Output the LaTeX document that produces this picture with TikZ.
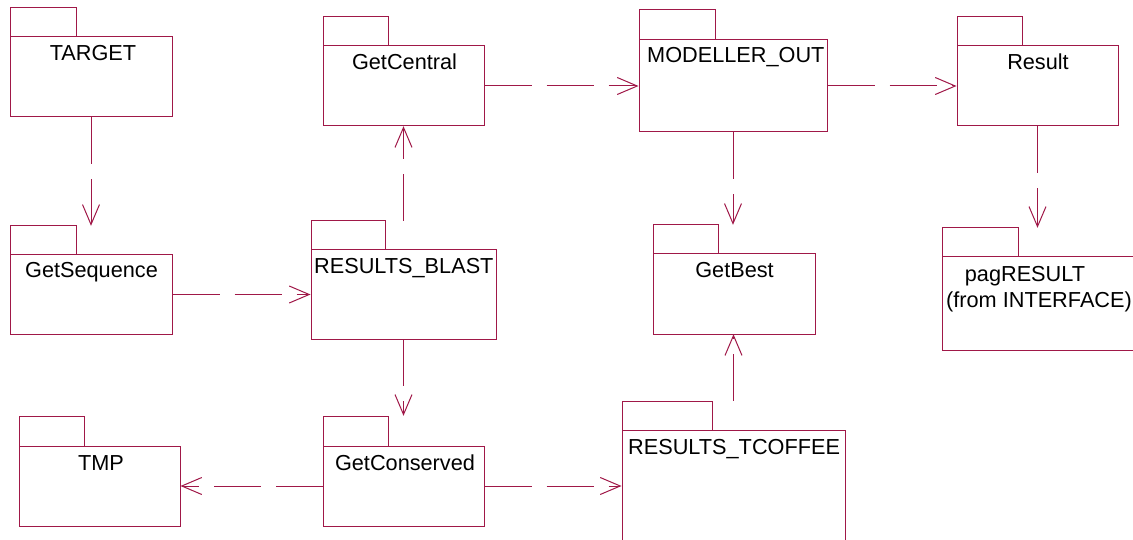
\documentclass[tikz,border=0pt]{standalone}
\usepackage{fontspec}
\setmainfont{Liberation Sans}
\usetikzlibrary{arrows.meta,fit}
\definecolor{umlred}{RGB}{160,24,72}
\tikzset{
  pkg/.style={draw=umlred, line width=1pt},
  pkgbody/.style={draw=umlred, line width=1pt, inner sep=0pt, rectangle},
  pkgall/.style={inner sep=0pt, rectangle},
  lbl/.style={inner sep=0pt, text=black, font=\fontsize{21.7}{26}\selectfont},
  dep/.style={draw=umlred, line width=1pt, dash pattern=on 47pt off 15pt,
    -{Straight Barb[length=20pt,width=17pt,line width=1pt]}}
}
\newcommand\pkgdraw[7]{%
  \draw[pkg] (#2,#3) rectangle (#4,#5);
  \node[pkgbody, fit={(#2,#5) (#6,#7)}] (#1) {};
  \node[pkgall, fit={(#2,#3) (#6,#7)}] (#1-all) {};
}
\begin{document}
\begin{tikzpicture}[x=1pt,y=-1pt]
\path[use as bounding box] (0,0) rectangle (1133,540);
\clip (0,0) rectangle (1133,540);
\fill[white] (0,0) rectangle (1133,540);

\pkgdraw{target}{10}{8}{76}{37}{172}{117}
\pkgdraw{getseq}{10}{226}{76}{255}{172}{334}
\pkgdraw{blast}{311}{221}{385}{250}{496}{339}
\pkgdraw{central}{323}{17}{388}{46}{484}{126}
\pkgdraw{modeller}{639}{10}{715}{40}{827}{132}
\pkgdraw{result}{957}{17}{1022}{46}{1118}{126}
\pkgdraw{pag}{942}{228}{1018}{257}{1134}{350}
\pkgdraw{getbest}{653}{225}{718}{254}{815}{334}
\pkgdraw{tcoffee}{622}{401}{712}{430}{845}{545}
\pkgdraw{getcons}{323}{416}{388}{446}{484}{526}
\pkgdraw{tmp}{19}{416}{84}{446}{180}{526}

\node[lbl, anchor=base] (l-target) at (93,61) {TARGET};
\node[lbl, anchor=base] (l-getseq) at (91.5,277) {GetSequence};
\node[lbl, anchor=base west] (l-blast) at (314,274) {RESULTS\_BLAST};
\node[lbl, anchor=base] (l-central) at (404.5,70) {GetCentral};
\node[lbl, anchor=base west] (l-modeller) at (647,63) {MODELLER\_OUT};
\node[lbl, anchor=base] (l-result) at (1038,70) {Result};
\node[lbl, anchor=base] (l-pag) at (1025,281) {pagRESULT};
\node[lbl, anchor=base] (l-pag2) at (1039,307) {(from INTERFACE)};
\node[lbl, anchor=base] (l-getbest) at (734.5,278) {GetBest};
\node[lbl, anchor=base west] (l-tcoffee) at (628,454) {RESULTS\_TCOFFEE};
\node[lbl, anchor=base] (l-getcons) at (405,470) {GetConserved};
\node[lbl, anchor=base] (l-tmp) at (101,470) {TMP};

\draw[dep] (target-all.south) -- (target-all.south |- getseq-all.north);
\draw[dep] (getseq.east) -- (getseq.east -| blast.west);
\draw[dep] (blast-all.north) -- (blast-all.north |- central-all.south);
\draw[dep] (blast-all.south) -- (blast-all.south |- getcons-all.north);
\draw[dep] (central.east) -- (central.east -| modeller.west);
\draw[dep] (modeller.east) -- (modeller.east -| result.west);
\draw[dep] (modeller-all.south) -- (modeller-all.south |- getbest-all.north);
\draw[dep] (result-all.south) -- (result-all.south |- pag-all.north);
\draw[dep] (tcoffee-all.north) -- (tcoffee-all.north |- getbest-all.south);
\draw[dep] (getcons.west) -- (getcons.west -| tmp.east);
\draw[dep] (getcons.east) -- (getcons.east -| tcoffee.west);
\end{tikzpicture}
\end{document}
